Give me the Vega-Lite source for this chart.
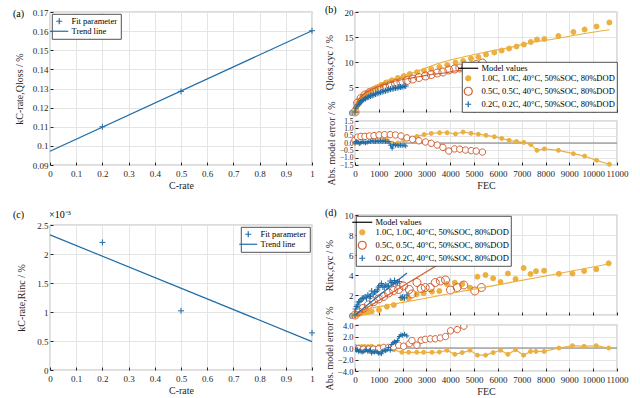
{
"$schema":"https://vega.github.io/schema/vega-lite/v6.json",
"background":"white",
"padding":{"left":12,"top":4,"right":0,"bottom":0},
"config":{
 "font":"Liberation Serif",
 "view":{"stroke":"#262626","strokeWidth":0.8},
 "axis":{"labelFont":"Liberation Serif","titleFont":"Liberation Serif","labelFontSize":9,"titleFontSize":10,"titleFontWeight":"normal","labelColor":"#262626","titleColor":"#262626","tickColor":"#262626","gridColor":"#e4e4e4","grid":true,"domain":false,"tickSize":-3,"labelPadding":3,"titlePadding":4,"labelOverlap":false,"labelFlush":false},
 "axisX":{"labelPadding":7,"titlePadding":2},
 "axisY":{"labelPadding":5},
 "legend":{"labelFont":"Liberation Serif","labelFontSize":8.5,"labelColor":"#000000","fillColor":"white","strokeColor":"#262626","strokeWidth":0.8,"padding":2,"rowPadding":0,"labelLimit":0,"symbolStrokeWidth":1.2},
 "title":{"font":"Liberation Serif","fontSize":10,"fontWeight":"normal","anchor":"start","frame":"group","color":"#000000"}
},
"datasets":{
 "a_pts":[{"c":0.2,"k":0.1100,"type":"Fit parameter"},{"c":0.5,"k":0.1285,"type":"Fit parameter"},{"c":1.0,"k":0.1602,"type":"Fit parameter"}],
 "a_line":[{"c":0,"k":0.0972},{"c":1,"k":0.1602}],
 "c_pts":[{"c":0.2,"k":0.00220,"type":"Fit parameter"},{"c":0.5,"k":0.00102,"type":"Fit parameter"},{"c":1.0,"k":0.00064,"type":"Fit parameter"}],
 "c_line":[{"c":0,"k":0.00233},{"c":1,"k":0.00049}],
 "b_meas":[
  {"s":"1.0C","f":0,"v":0},{"s":"1.0C","f":50,"v":1.0},{"s":"1.0C","f":120,"v":1.7},{"s":"1.0C","f":200,"v":2.3},{"s":"1.0C","f":300,"v":2.9},{"s":"1.0C","f":420,"v":3.4},{"s":"1.0C","f":550,"v":3.9},{"s":"1.0C","f":700,"v":4.4},{"s":"1.0C","f":900,"v":4.9},{"s":"1.0C","f":1100,"v":5.4},{"s":"1.0C","f":1300,"v":5.9},{"s":"1.0C","f":1550,"v":6.35},{"s":"1.0C","f":1800,"v":6.8},{"s":"1.0C","f":2050,"v":7.2},{"s":"1.0C","f":2300,"v":7.6},{"s":"1.0C","f":2600,"v":7.95},{"s":"1.0C","f":2900,"v":8.25},{"s":"1.0C","f":3200,"v":8.6},{"s":"1.0C","f":3550,"v":9.0},{"s":"1.0C","f":3870,"v":9.4},{"s":"1.0C","f":4220,"v":9.9},{"s":"1.0C","f":4540,"v":10.2},{"s":"1.0C","f":4870,"v":10.7},{"s":"1.0C","f":5180,"v":11.0},{"s":"1.0C","f":5500,"v":11.5},{"s":"1.0C","f":5850,"v":11.9},{"s":"1.0C","f":6160,"v":12.3},{"s":"1.0C","f":6470,"v":12.7},{"s":"1.0C","f":6780,"v":13.1},{"s":"1.0C","f":7090,"v":13.5},{"s":"1.0C","f":7380,"v":14.0},{"s":"1.0C","f":7640,"v":14.5},{"s":"1.0C","f":7950,"v":14.6},{"s":"1.0C","f":8540,"v":15.2},{"s":"1.0C","f":9170,"v":16.0},{"s":"1.0C","f":9640,"v":16.5},{"s":"1.0C","f":10140,"v":17.1},{"s":"1.0C","f":10680,"v":17.9},
  {"s":"0.5C","f":0,"v":0},{"s":"0.5C","f":110,"v":1.8},{"s":"0.5C","f":250,"v":2.7},{"s":"0.5C","f":420,"v":3.4},{"s":"0.5C","f":610,"v":3.9},{"s":"0.5C","f":800,"v":4.3},{"s":"0.5C","f":1010,"v":4.7},{"s":"0.5C","f":1240,"v":5.0},{"s":"0.5C","f":1480,"v":5.4},{"s":"0.5C","f":1700,"v":5.7},{"s":"0.5C","f":1930,"v":6.0},{"s":"0.5C","f":2180,"v":6.3},{"s":"0.5C","f":2420,"v":6.6},{"s":"0.5C","f":2680,"v":6.9},{"s":"0.5C","f":2960,"v":7.2},{"s":"0.5C","f":3200,"v":7.5},{"s":"0.5C","f":3450,"v":7.8},{"s":"0.5C","f":3690,"v":8.0},{"s":"0.5C","f":3940,"v":8.4},{"s":"0.5C","f":4180,"v":8.6},{"s":"0.5C","f":4400,"v":8.8},{"s":"0.5C","f":4640,"v":9.0},{"s":"0.5C","f":4880,"v":9.2},{"s":"0.5C","f":5090,"v":9.5},{"s":"0.5C","f":5350,"v":9.8},
  {"s":"0.2C","f":0,"v":0},{"s":"0.2C","f":30,"v":0.8},{"s":"0.2C","f":70,"v":1.2},{"s":"0.2C","f":120,"v":1.5},{"s":"0.2C","f":180,"v":1.8},{"s":"0.2C","f":240,"v":2.1},{"s":"0.2C","f":300,"v":2.3},{"s":"0.2C","f":370,"v":2.5},{"s":"0.2C","f":440,"v":2.7},{"s":"0.2C","f":510,"v":2.9},{"s":"0.2C","f":580,"v":3.0},{"s":"0.2C","f":650,"v":3.2},{"s":"0.2C","f":720,"v":3.3},{"s":"0.2C","f":790,"v":3.45},{"s":"0.2C","f":860,"v":3.6},{"s":"0.2C","f":930,"v":3.7},{"s":"0.2C","f":1000,"v":3.85},{"s":"0.2C","f":1070,"v":3.95},{"s":"0.2C","f":1140,"v":4.05},{"s":"0.2C","f":1210,"v":4.15},{"s":"0.2C","f":1280,"v":4.25},{"s":"0.2C","f":1350,"v":4.35},{"s":"0.2C","f":1420,"v":4.45},{"s":"0.2C","f":1490,"v":4.6},{"s":"0.2C","f":1560,"v":4.65},{"s":"0.2C","f":1630,"v":4.7},{"s":"0.2C","f":1700,"v":4.8},{"s":"0.2C","f":1770,"v":4.85},{"s":"0.2C","f":1840,"v":4.95},{"s":"0.2C","f":1910,"v":5.0},{"s":"0.2C","f":1980,"v":5.05},{"s":"0.2C","f":2060,"v":5.15},{"s":"0.2C","f":2130,"v":5.2}
 ],
 "b_model":[
  {"s":"1.0C","f":0,"v":0},{"s":"1.0C","f":30,"v":1.0},{"s":"1.0C","f":100,"v":2.0},{"s":"1.0C","f":200,"v":2.7},{"s":"1.0C","f":350,"v":3.4},{"s":"1.0C","f":550,"v":4.3},{"s":"1.0C","f":800,"v":5.0},{"s":"1.0C","f":1000,"v":5.5},{"s":"1.0C","f":1300,"v":6.2},{"s":"1.0C","f":1700,"v":6.8},{"s":"1.0C","f":2100,"v":7.4},{"s":"1.0C","f":2500,"v":7.95},{"s":"1.0C","f":3000,"v":8.85},{"s":"1.0C","f":3700,"v":10.0},{"s":"1.0C","f":4500,"v":10.95},{"s":"1.0C","f":5500,"v":12.0},{"s":"1.0C","f":6500,"v":12.9},{"s":"1.0C","f":7400,"v":13.9},{"s":"1.0C","f":8500,"v":14.7},{"s":"1.0C","f":9500,"v":15.6},{"s":"1.0C","f":10680,"v":16.45},
  {"s":"0.5C","f":0,"v":0},{"s":"0.5C","f":110,"v":2.1},{"s":"0.5C","f":250,"v":3.0},{"s":"0.5C","f":420,"v":3.75},{"s":"0.5C","f":800,"v":4.75},{"s":"0.5C","f":1240,"v":5.5},{"s":"0.5C","f":1700,"v":6.2},{"s":"0.5C","f":2180,"v":6.65},{"s":"0.5C","f":2680,"v":7.05},{"s":"0.5C","f":3200,"v":7.5},{"s":"0.5C","f":3690,"v":7.75},{"s":"0.5C","f":4180,"v":8.2},{"s":"0.5C","f":4640,"v":8.5},{"s":"0.5C","f":5090,"v":8.95},{"s":"0.5C","f":5350,"v":9.2},
  {"s":"0.2C","f":0,"v":0},{"s":"0.2C","f":30,"v":0.9},{"s":"0.2C","f":70,"v":1.3},{"s":"0.2C","f":150,"v":1.7},{"s":"0.2C","f":300,"v":2.4},{"s":"0.2C","f":500,"v":2.95},{"s":"0.2C","f":800,"v":3.55},{"s":"0.2C","f":1100,"v":4.05},{"s":"0.2C","f":1400,"v":4.55},{"s":"0.2C","f":1700,"v":4.65},{"s":"0.2C","f":2130,"v":5.0}
 ],
 "b_err":[
  {"s":"1.0C","f":0,"v":0},{"s":"1.0C","f":50,"v":0.2},{"s":"1.0C","f":120,"v":0.3},{"s":"1.0C","f":200,"v":0.4},{"s":"1.0C","f":300,"v":0.45},{"s":"1.0C","f":420,"v":0.45},{"s":"1.0C","f":550,"v":0.45},{"s":"1.0C","f":700,"v":0.45},{"s":"1.0C","f":900,"v":0.45},{"s":"1.0C","f":1100,"v":0.4},{"s":"1.0C","f":1300,"v":0.3},{"s":"1.0C","f":1550,"v":0.0},{"s":"1.0C","f":1800,"v":0.0},{"s":"1.0C","f":2050,"v":0.2},{"s":"1.0C","f":2300,"v":0.3},{"s":"1.0C","f":2600,"v":0.45},{"s":"1.0C","f":2900,"v":0.58},{"s":"1.0C","f":3200,"v":0.65},{"s":"1.0C","f":3550,"v":0.7},{"s":"1.0C","f":3870,"v":0.7},{"s":"1.0C","f":4220,"v":0.62},{"s":"1.0C","f":4540,"v":0.75},{"s":"1.0C","f":4870,"v":0.66},{"s":"1.0C","f":5180,"v":0.6},{"s":"1.0C","f":5500,"v":0.52},{"s":"1.0C","f":5850,"v":0.43},{"s":"1.0C","f":6160,"v":0.31},{"s":"1.0C","f":6470,"v":0.18},{"s":"1.0C","f":6780,"v":0.1},{"s":"1.0C","f":7090,"v":0.04},{"s":"1.0C","f":7380,"v":-0.1},{"s":"1.0C","f":7640,"v":-0.5},{"s":"1.0C","f":7950,"v":-0.4},{"s":"1.0C","f":8540,"v":-0.5},{"s":"1.0C","f":9170,"v":-0.73},{"s":"1.0C","f":9640,"v":-0.89},{"s":"1.0C","f":10140,"v":-1.18},{"s":"1.0C","f":10680,"v":-1.45},
  {"s":"0.5C","f":0,"v":0.2},{"s":"0.5C","f":110,"v":0.4},{"s":"0.5C","f":250,"v":0.45},{"s":"0.5C","f":420,"v":0.45},{"s":"0.5C","f":610,"v":0.48},{"s":"0.5C","f":800,"v":0.5},{"s":"0.5C","f":1010,"v":0.55},{"s":"0.5C","f":1240,"v":0.57},{"s":"0.5C","f":1480,"v":0.57},{"s":"0.5C","f":1700,"v":0.55},{"s":"0.5C","f":1930,"v":0.48},{"s":"0.5C","f":2180,"v":0.35},{"s":"0.5C","f":2420,"v":0.25},{"s":"0.5C","f":2680,"v":0.15},{"s":"0.5C","f":2960,"v":0.07},{"s":"0.5C","f":3200,"v":-0.02},{"s":"0.5C","f":3450,"v":-0.14},{"s":"0.5C","f":3690,"v":-0.3},{"s":"0.5C","f":3940,"v":-0.55},{"s":"0.5C","f":4180,"v":-0.4},{"s":"0.5C","f":4400,"v":-0.42},{"s":"0.5C","f":4640,"v":-0.48},{"s":"0.5C","f":4880,"v":-0.52},{"s":"0.5C","f":5090,"v":-0.55},{"s":"0.5C","f":5350,"v":-0.62},
  {"s":"0.2C","f":0,"v":0},{"s":"0.2C","f":30,"v":0.1},{"s":"0.2C","f":70,"v":0.1},{"s":"0.2C","f":120,"v":0.05},{"s":"0.2C","f":180,"v":-0.05},{"s":"0.2C","f":240,"v":0.0},{"s":"0.2C","f":300,"v":0.1},{"s":"0.2C","f":370,"v":0.05},{"s":"0.2C","f":440,"v":0.0},{"s":"0.2C","f":510,"v":0.05},{"s":"0.2C","f":580,"v":0.1},{"s":"0.2C","f":650,"v":0.1},{"s":"0.2C","f":720,"v":0.15},{"s":"0.2C","f":790,"v":0.1},{"s":"0.2C","f":860,"v":0.1},{"s":"0.2C","f":930,"v":0.15},{"s":"0.2C","f":1000,"v":0.1},{"s":"0.2C","f":1070,"v":0.15},{"s":"0.2C","f":1140,"v":0.1},{"s":"0.2C","f":1210,"v":0.15},{"s":"0.2C","f":1280,"v":0.1},{"s":"0.2C","f":1350,"v":0.1},{"s":"0.2C","f":1420,"v":0.1},{"s":"0.2C","f":1490,"v":-0.15},{"s":"0.2C","f":1560,"v":-0.35},{"s":"0.2C","f":1630,"v":-0.1},{"s":"0.2C","f":1700,"v":-0.15},{"s":"0.2C","f":1770,"v":-0.15},{"s":"0.2C","f":1840,"v":-0.18},{"s":"0.2C","f":1910,"v":-0.15},{"s":"0.2C","f":1980,"v":-0.18},{"s":"0.2C","f":2060,"v":-0.15},{"s":"0.2C","f":2130,"v":-0.2}
 ],
 "d_meas":[
  {"s":"1.0C","f":0,"v":0},{"s":"1.0C","f":50,"v":0.05},{"s":"1.0C","f":120,"v":0.1},{"s":"1.0C","f":200,"v":0.15},{"s":"1.0C","f":300,"v":0.2},{"s":"1.0C","f":420,"v":0.25},{"s":"1.0C","f":550,"v":0.3},{"s":"1.0C","f":700,"v":0.35},{"s":"1.0C","f":1010,"v":0.5},{"s":"1.0C","f":1340,"v":0.83},{"s":"1.0C","f":1630,"v":1.0},{"s":"1.0C","f":1970,"v":1.67},{"s":"1.0C","f":2250,"v":1.67},{"s":"1.0C","f":2590,"v":2.07},{"s":"1.0C","f":2880,"v":2.17},{"s":"1.0C","f":3230,"v":2.33},{"s":"1.0C","f":3540,"v":2.4},{"s":"1.0C","f":3860,"v":3.1},{"s":"1.0C","f":4190,"v":3.23},{"s":"1.0C","f":4500,"v":3.1},{"s":"1.0C","f":4830,"v":2.73},{"s":"1.0C","f":5140,"v":3.83},{"s":"1.0C","f":5480,"v":4.0},{"s":"1.0C","f":5800,"v":3.67},{"s":"1.0C","f":6110,"v":3.3},{"s":"1.0C","f":6420,"v":4.15},{"s":"1.0C","f":6740,"v":3.6},{"s":"1.0C","f":7080,"v":4.7},{"s":"1.0C","f":7370,"v":4.1},{"s":"1.0C","f":7600,"v":4.38},{"s":"1.0C","f":7940,"v":4.43},{"s":"1.0C","f":8560,"v":4.12},{"s":"1.0C","f":9130,"v":4.14},{"s":"1.0C","f":9620,"v":4.4},{"s":"1.0C","f":10130,"v":4.57},{"s":"1.0C","f":10650,"v":5.17},
  {"s":"0.5C","f":0,"v":0},{"s":"0.5C","f":140,"v":0.33},{"s":"0.5C","f":350,"v":0.67},{"s":"0.5C","f":560,"v":1.0},{"s":"0.5C","f":780,"v":1.33},{"s":"0.5C","f":990,"v":1.6},{"s":"0.5C","f":1200,"v":1.85},{"s":"0.5C","f":1410,"v":2.2},{"s":"0.5C","f":1620,"v":2.45},{"s":"0.5C","f":1830,"v":2.55},{"s":"0.5C","f":2040,"v":2.9},{"s":"0.5C","f":2280,"v":2.55},{"s":"0.5C","f":2390,"v":2.1},{"s":"0.5C","f":2600,"v":3.25},{"s":"0.5C","f":2780,"v":2.65},{"s":"0.5C","f":2950,"v":2.75},{"s":"0.5C","f":3160,"v":2.75},{"s":"0.5C","f":3370,"v":3.25},{"s":"0.5C","f":3580,"v":3.4},{"s":"0.5C","f":3800,"v":3.5},{"s":"0.5C","f":4010,"v":2.5},{"s":"0.5C","f":4290,"v":2.75},{"s":"0.5C","f":4570,"v":3.0},{"s":"0.5C","f":5030,"v":2.4},{"s":"0.5C","f":5310,"v":2.75},
  {"s":"0.2C","f":0,"v":0},{"s":"0.2C","f":30,"v":0.6},{"s":"0.2C","f":70,"v":0.85},{"s":"0.2C","f":110,"v":1.0},{"s":"0.2C","f":150,"v":1.3},{"s":"0.2C","f":200,"v":1.35},{"s":"0.2C","f":250,"v":1.5},{"s":"0.2C","f":300,"v":1.65},{"s":"0.2C","f":350,"v":1.7},{"s":"0.2C","f":420,"v":1.8},{"s":"0.2C","f":480,"v":1.7},{"s":"0.2C","f":540,"v":2.0},{"s":"0.2C","f":600,"v":1.85},{"s":"0.2C","f":650,"v":1.9},{"s":"0.2C","f":700,"v":2.4},{"s":"0.2C","f":760,"v":2.1},{"s":"0.2C","f":820,"v":2.3},{"s":"0.2C","f":880,"v":2.35},{"s":"0.2C","f":940,"v":2.5},{"s":"0.2C","f":990,"v":2.8},{"s":"0.2C","f":1050,"v":2.95},{"s":"0.2C","f":1110,"v":3.15},{"s":"0.2C","f":1170,"v":2.8},{"s":"0.2C","f":1230,"v":2.8},{"s":"0.2C","f":1290,"v":3.0},{"s":"0.2C","f":1350,"v":2.9},{"s":"0.2C","f":1410,"v":2.9},{"s":"0.2C","f":1480,"v":3.4},{"s":"0.2C","f":1540,"v":3.25},{"s":"0.2C","f":1600,"v":3.1},{"s":"0.2C","f":1660,"v":3.45},{"s":"0.2C","f":1720,"v":3.2},{"s":"0.2C","f":1780,"v":3.3},{"s":"0.2C","f":1860,"v":3.35},{"s":"0.2C","f":1930,"v":1.75},{"s":"0.2C","f":2000,"v":1.8},{"s":"0.2C","f":2080,"v":1.7},{"s":"0.2C","f":2180,"v":2.0}
 ],
 "d_model":[
  {"s":"1.0C","f":0,"v":0},{"s":"1.0C","f":100,"v":0.25},{"s":"1.0C","f":300,"v":0.45},{"s":"1.0C","f":700,"v":0.7},{"s":"1.0C","f":1500,"v":1.05},{"s":"1.0C","f":2800,"v":1.6},{"s":"1.0C","f":4000,"v":2.15},{"s":"1.0C","f":5330,"v":2.73},{"s":"1.0C","f":8000,"v":3.9},{"s":"1.0C","f":10650,"v":5.1},
  {"s":"0.5C","f":0,"v":0},{"s":"0.5C","f":5310,"v":7.65},
  {"s":"0.2C","f":0,"v":0},{"s":"0.2C","f":2180,"v":4.2}
 ],
 "d_err":[
  {"s":"1.0C","f":0,"v":0},{"s":"1.0C","f":50,"v":0.1},{"s":"1.0C","f":120,"v":0.15},{"s":"1.0C","f":200,"v":0.2},{"s":"1.0C","f":300,"v":0.25},{"s":"1.0C","f":420,"v":0.25},{"s":"1.0C","f":550,"v":0.25},{"s":"1.0C","f":700,"v":0.3},{"s":"1.0C","f":1010,"v":0.3},{"s":"1.0C","f":1340,"v":0.1},{"s":"1.0C","f":1630,"v":-0.3},{"s":"1.0C","f":1970,"v":-0.75},{"s":"1.0C","f":2250,"v":-0.75},{"s":"1.0C","f":2590,"v":-0.75},{"s":"1.0C","f":2880,"v":-0.75},{"s":"1.0C","f":3230,"v":-0.75},{"s":"1.0C","f":3540,"v":-0.7},{"s":"1.0C","f":3860,"v":-0.4},{"s":"1.0C","f":4190,"v":-1.1},{"s":"1.0C","f":4500,"v":-0.8},{"s":"1.0C","f":4830,"v":-0.4},{"s":"1.0C","f":5140,"v":-1.25},{"s":"1.0C","f":5480,"v":-1.25},{"s":"1.0C","f":5800,"v":-0.8},{"s":"1.0C","f":6110,"v":-0.4},{"s":"1.0C","f":6420,"v":-1.1},{"s":"1.0C","f":6740,"v":-0.3},{"s":"1.0C","f":7080,"v":-1.25},{"s":"1.0C","f":7370,"v":-0.6},{"s":"1.0C","f":7600,"v":-0.6},{"s":"1.0C","f":7940,"v":-0.6},{"s":"1.0C","f":8560,"v":0.0},{"s":"1.0C","f":9130,"v":0.4},{"s":"1.0C","f":9620,"v":0.3},{"s":"1.0C","f":10130,"v":0.4},{"s":"1.0C","f":10650,"v":0.0},
  {"s":"0.5C","f":0,"v":0},{"s":"0.5C","f":140,"v":-0.1},{"s":"0.5C","f":350,"v":-0.2},{"s":"0.5C","f":560,"v":-0.2},{"s":"0.5C","f":780,"v":-0.2},{"s":"0.5C","f":990,"v":-0.15},{"s":"0.5C","f":1200,"v":0.1},{"s":"0.5C","f":1410,"v":0.1},{"s":"0.5C","f":1620,"v":0.2},{"s":"0.5C","f":1830,"v":0.5},{"s":"0.5C","f":2040,"v":0.3},{"s":"0.5C","f":2280,"v":0.75},{"s":"0.5C","f":2390,"v":1.3},{"s":"0.5C","f":2600,"v":0.5},{"s":"0.5C","f":2780,"v":1.35},{"s":"0.5C","f":2950,"v":1.5},{"s":"0.5C","f":3160,"v":1.6},{"s":"0.5C","f":3370,"v":1.6},{"s":"0.5C","f":3580,"v":1.75},{"s":"0.5C","f":3800,"v":2.0},{"s":"0.5C","f":4010,"v":3.0},{"s":"0.5C","f":4290,"v":3.2},{"s":"0.5C","f":4570,"v":3.8},{"s":"0.5C","f":5030,"v":4.8},{"s":"0.5C","f":5310,"v":4.9},
  {"s":"0.2C","f":0,"v":0},{"s":"0.2C","f":30,"v":-0.3},{"s":"0.2C","f":70,"v":-0.4},{"s":"0.2C","f":110,"v":-0.3},{"s":"0.2C","f":150,"v":-0.6},{"s":"0.2C","f":200,"v":-0.5},{"s":"0.2C","f":250,"v":-0.6},{"s":"0.2C","f":300,"v":-0.7},{"s":"0.2C","f":350,"v":-0.6},{"s":"0.2C","f":420,"v":-0.5},{"s":"0.2C","f":480,"v":-0.3},{"s":"0.2C","f":540,"v":-0.6},{"s":"0.2C","f":600,"v":-0.4},{"s":"0.2C","f":650,"v":-0.4},{"s":"0.2C","f":700,"v":-0.9},{"s":"0.2C","f":760,"v":-0.6},{"s":"0.2C","f":820,"v":-0.7},{"s":"0.2C","f":880,"v":-0.6},{"s":"0.2C","f":940,"v":-0.7},{"s":"0.2C","f":990,"v":-0.9},{"s":"0.2C","f":1050,"v":-0.9},{"s":"0.2C","f":1110,"v":-1.0},{"s":"0.2C","f":1170,"v":-0.5},{"s":"0.2C","f":1230,"v":-0.4},{"s":"0.2C","f":1290,"v":-0.5},{"s":"0.2C","f":1350,"v":-0.3},{"s":"0.2C","f":1410,"v":0.1},{"s":"0.2C","f":1480,"v":-0.4},{"s":"0.2C","f":1540,"v":0.6},{"s":"0.2C","f":1600,"v":0.9},{"s":"0.2C","f":1660,"v":1.1},{"s":"0.2C","f":1720,"v":1.0},{"s":"0.2C","f":1780,"v":1.3},{"s":"0.2C","f":1860,"v":2.0},{"s":"0.2C","f":1930,"v":2.3},{"s":"0.2C","f":2000,"v":2.2},{"s":"0.2C","f":2080,"v":2.4},{"s":"0.2C","f":2180,"v":2.1}
 ]
},
"spacing":5,
"resolve":{"scale":{"shape":"independent","stroke":"independent","fill":"independent","color":"independent"},"legend":{"shape":"independent","stroke":"independent","fill":"independent"}},
"hconcat":[
 {"vconcat":[
  {"width":262,"height":153,
   "title":{"text":"(a)","dx":-37,"offset":-16,"baseline":"middle"},
   "layer":[
    {"data":{"name":"a_line"},"mark":{"type":"line","color":"#1F6DA8","strokeWidth":1.2},
     "encoding":{"x":{"field":"c","type":"quantitative","scale":{"domain":[0,1],"nice":false},"axis":{"values":[0,0.1,0.2,0.3,0.4,0.5,0.6,0.7,0.8,0.9,1],"tickCount":40,"format":"~g","title":"C-rate"}},
                 "y":{"field":"k","type":"quantitative","scale":{"domain":[0.09,0.17],"nice":false,"zero":false},"axis":{"values":[0.09,0.1,0.11,0.12,0.13,0.14,0.15,0.16,0.17],"tickCount":40,"format":"~g","title":"kC-rate,Qloss / %","titlePadding":8}}}},
    {"data":{"name":"a_pts"},"mark":{"type":"point","opacity":1,"strokeWidth":1,"size":36},
     "encoding":{"x":{"field":"c","type":"quantitative"},"y":{"field":"k","type":"quantitative"},
      "shape":{"field":"type","type":"nominal","scale":{"domain":["Fit parameter","Trend line"],"range":["M-1,0L1,0M0,-1L0,1","M-3,0L3,0"]},"legend":{"title":null,"orient":"top-left","offset":2,"symbolSize":36,"labelOffset":8,"padding":3}},
      "stroke":{"field":"type","type":"nominal","scale":{"domain":["Fit parameter","Trend line"],"range":["#1F6DA8","#1F6DA8"]},"legend":{"title":null,"orient":"top-left","offset":2,"symbolSize":36,"labelOffset":8,"padding":3}}}}
   ]},
  {"width":262,"height":145,
   "title":{"text":"(c)\u00a0\u00a0\u00a0\u00a0\u00a0\u00a0\u00a0\u00a0\u00a0\u00a0×10⁻³","dx":-37,"offset":-4,"baseline":"middle"},
   "layer":[
    {"data":{"name":"c_line"},"mark":{"type":"line","color":"#1F6DA8","strokeWidth":1.2},
     "encoding":{"x":{"field":"c","type":"quantitative","scale":{"domain":[0,1],"nice":false},"axis":{"values":[0,0.1,0.2,0.3,0.4,0.5,0.6,0.7,0.8,0.9,1],"tickCount":40,"format":"~g","title":"C-rate"}},
                 "y":{"field":"k","type":"quantitative","scale":{"domain":[0,0.0025],"nice":false},"axis":{"values":[0,0.0005,0.001,0.0015,0.002,0.0025],"tickCount":40,"labelExpr":"format(datum.value*1000,'~g')","title":"kC-rate,Rinc / %","titlePadding":10}}}},
    {"data":{"name":"c_pts"},"mark":{"type":"point","opacity":1,"strokeWidth":1,"size":36},
     "encoding":{"x":{"field":"c","type":"quantitative"},"y":{"field":"k","type":"quantitative"},
      "shape":{"field":"type","type":"nominal","scale":{"domain":["Fit parameter","Trend line"],"range":["M-1,0L1,0M0,-1L0,1","M-3,0L3,0"]},"legend":{"title":null,"orient":"top-right","offset":2,"symbolSize":36,"labelOffset":8,"padding":3}},
      "stroke":{"field":"type","type":"nominal","scale":{"domain":["Fit parameter","Trend line"],"range":["#1F6DA8","#1F6DA8"]},"legend":{"title":null,"orient":"top-right","offset":2,"symbolSize":36,"labelOffset":8,"padding":3}}}}
   ]}
 ],"spacing":60,"bounds":"flush",
 "resolve":{"scale":{"shape":"independent","stroke":"independent","fill":"independent","color":"independent"},"legend":{"shape":"independent","stroke":"independent","fill":"independent"}}},
 {"vconcat":[
  {"vconcat":[
   {"width":262,"height":100,
    "title":{"text":"(b)","dx":-30,"offset":-12,"baseline":"middle"},
    "layer":[
     {"data":{"name":"b_meas"},"mark":{"type":"point","opacity":1,"strokeWidth":1,"size":25},
      "encoding":{"x":{"field":"f","type":"quantitative","scale":{"domain":[0,11000],"nice":false},"axis":{"values":[0,1000,2000,3000,4000,5000,6000,7000,8000,9000,10000,11000],"tickCount":40,"labels":false,"title":null}},
       "y":{"field":"v","type":"quantitative","scale":{"domain":[0,20],"nice":false},"axis":{"values":[0,5,10,15,20],"tickCount":40,"format":"~g","title":"Qloss,cyc / %","titlePadding":10}},
       "shape":{"field":"s","type":"nominal","scale":{"domain":["Model values","1.0C","0.5C","0.2C"],"range":["M-4,0L4,0","circle","M-1.6,0A1.6,1.6 0 1,0 1.6,0A1.6,1.6 0 1,0 -1.6,0","M-1.2,0L1.2,0M0,-1.2L0,1.2"]},"legend":{"title":null,"orient":"bottom-right","offset":0,"symbolSize":25,"labelOffset":9,"labelExpr":"datum.label == 'Model values' ? datum.label : datum.label + ', ' + datum.label + ', 40°C, 50%SOC, 80%DOD'"}},
       "stroke":{"field":"s","type":"nominal","scale":{"domain":["Model values","1.0C","0.5C","0.2C"],"range":["#000000","#EBB03F","#D05F33","#1F6DA8"]},"legend":{"title":null,"orient":"bottom-right","offset":0,"symbolSize":25,"labelOffset":9,"labelExpr":"datum.label == 'Model values' ? datum.label : datum.label + ', ' + datum.label + ', 40°C, 50%SOC, 80%DOD'"}},
       "fill":{"field":"s","type":"nominal","scale":{"domain":["Model values","1.0C","0.5C","0.2C"],"range":["transparent","#EBB03F","transparent","transparent"]},"legend":{"title":null,"orient":"bottom-right","offset":0,"symbolSize":25,"labelOffset":9,"labelExpr":"datum.label == 'Model values' ? datum.label : datum.label + ', ' + datum.label + ', 40°C, 50%SOC, 80%DOD'"}}}},
     {"data":{"name":"b_model"},"transform":[{"filter":"datum.s == '1.0C'"}],"mark":{"type":"line","color":"#EBB03F","strokeWidth":1.2,"interpolate":"monotone"},"encoding":{"x":{"field":"f","type":"quantitative"},"y":{"field":"v","type":"quantitative"}}},
     {"data":{"name":"b_model"},"transform":[{"filter":"datum.s == '0.5C'"}],"mark":{"type":"line","color":"#D05F33","strokeWidth":1.2,"interpolate":"monotone"},"encoding":{"x":{"field":"f","type":"quantitative"},"y":{"field":"v","type":"quantitative"}}},
     {"data":{"name":"b_model"},"transform":[{"filter":"datum.s == '0.2C'"}],"mark":{"type":"line","color":"#1F6DA8","strokeWidth":1.2,"interpolate":"monotone"},"encoding":{"x":{"field":"f","type":"quantitative"},"y":{"field":"v","type":"quantitative"}}}
    ]},
   {"width":262,"height":44,
    "layer":[
     {"data":{"values":[{"z":0}]},"mark":{"type":"rule","color":"#7a7a7a","strokeWidth":1},
      "encoding":{"y":{"field":"z","type":"quantitative","scale":{"domain":[-1.5,1.5],"nice":false},"axis":{"values":[-1.5,-1,-0.5,0,0.5,1,1.5],"tickCount":40,"format":".1f","labelFontSize":7.5,"title":"Abs. model error / %","titlePadding":3}}}},
     {"data":{"name":"b_err"},"transform":[{"filter":"datum.s == '1.0C'"}],"mark":{"type":"line","color":"#EBB03F","strokeWidth":1.2},
      "encoding":{"x":{"field":"f","type":"quantitative","scale":{"domain":[0,11000],"nice":false},"axis":{"values":[0,1000,2000,3000,4000,5000,6000,7000,8000,9000,10000,11000],"tickCount":40,"format":"d","title":"FEC"}},"y":{"field":"v","type":"quantitative"}}},
     {"data":{"name":"b_err"},"transform":[{"filter":"datum.s == '0.5C'"}],"mark":{"type":"line","color":"#D05F33","strokeWidth":1.2},"encoding":{"x":{"field":"f","type":"quantitative"},"y":{"field":"v","type":"quantitative"}}},
     {"data":{"name":"b_err"},"transform":[{"filter":"datum.s == '0.2C'"}],"mark":{"type":"line","color":"#1F6DA8","strokeWidth":1.2},"encoding":{"x":{"field":"f","type":"quantitative"},"y":{"field":"v","type":"quantitative"}}},
     {"data":{"name":"b_err"},"mark":{"type":"point","opacity":1,"strokeWidth":1,"size":16},
      "encoding":{"x":{"field":"f","type":"quantitative"},"y":{"field":"v","type":"quantitative"},
       "shape":{"field":"s","type":"nominal","scale":{"domain":["1.0C","0.5C","0.2C"],"range":["circle","M-1.6,0A1.6,1.6 0 1,0 1.6,0A1.6,1.6 0 1,0 -1.6,0","M-1.2,0L1.2,0M0,-1.2L0,1.2"]},"legend":null},
       "stroke":{"field":"s","type":"nominal","scale":{"domain":["1.0C","0.5C","0.2C"],"range":["#EBB03F","#D05F33","#1F6DA8"]},"legend":null},
       "fill":{"field":"s","type":"nominal","scale":{"domain":["1.0C","0.5C","0.2C"],"range":["#EBB03F","white","transparent"]},"legend":null}}}
    ]}
  ],"spacing":9,"bounds":"flush",
  "resolve":{"scale":{"shape":"independent","stroke":"independent","fill":"independent","color":"independent"},"legend":{"shape":"independent","stroke":"independent","fill":"independent"}}},
  {"vconcat":[
   {"width":262,"height":100,
    "title":{"text":"(d)","dx":-30,"offset":-12,"baseline":"middle"},
    "layer":[
     {"data":{"name":"d_meas"},"mark":{"type":"point","opacity":1,"strokeWidth":1,"size":25},
      "encoding":{"x":{"field":"f","type":"quantitative","scale":{"domain":[0,11000],"nice":false},"axis":{"values":[0,1000,2000,3000,4000,5000,6000,7000,8000,9000,10000,11000],"tickCount":40,"labels":false,"title":null}},
       "y":{"field":"v","type":"quantitative","scale":{"domain":[0,10],"nice":false},"axis":{"values":[0,2,4,6,8,10],"tickCount":40,"format":"~g","title":"Rinc,cyc / %","titlePadding":10}},
       "shape":{"field":"s","type":"nominal","scale":{"domain":["Model values","1.0C","0.5C","0.2C"],"range":["M-4,0L4,0","circle","M-1.6,0A1.6,1.6 0 1,0 1.6,0A1.6,1.6 0 1,0 -1.6,0","M-1.2,0L1.2,0M0,-1.2L0,1.2"]},"legend":{"title":null,"orient":"top-left","offset":1,"symbolSize":25,"labelOffset":9,"labelExpr":"datum.label == 'Model values' ? datum.label : datum.label + ', ' + datum.label + ', 40°C, 50%SOC, 80%DOD'"}},
       "stroke":{"field":"s","type":"nominal","scale":{"domain":["Model values","1.0C","0.5C","0.2C"],"range":["#000000","#EBB03F","#D05F33","#1F6DA8"]},"legend":{"title":null,"orient":"top-left","offset":1,"symbolSize":25,"labelOffset":9,"labelExpr":"datum.label == 'Model values' ? datum.label : datum.label + ', ' + datum.label + ', 40°C, 50%SOC, 80%DOD'"}},
       "fill":{"field":"s","type":"nominal","scale":{"domain":["Model values","1.0C","0.5C","0.2C"],"range":["transparent","#EBB03F","transparent","transparent"]},"legend":{"title":null,"orient":"top-left","offset":1,"symbolSize":25,"labelOffset":9,"labelExpr":"datum.label == 'Model values' ? datum.label : datum.label + ', ' + datum.label + ', 40°C, 50%SOC, 80%DOD'"}}}},
     {"data":{"name":"d_model"},"transform":[{"filter":"datum.s == '1.0C'"}],"mark":{"type":"line","color":"#EBB03F","strokeWidth":1.2,"interpolate":"monotone","clip":true},"encoding":{"x":{"field":"f","type":"quantitative"},"y":{"field":"v","type":"quantitative"}}},
     {"data":{"name":"d_model"},"transform":[{"filter":"datum.s == '0.5C'"}],"mark":{"type":"line","color":"#D05F33","strokeWidth":1.2,"clip":true},"encoding":{"x":{"field":"f","type":"quantitative"},"y":{"field":"v","type":"quantitative"}}},
     {"data":{"name":"d_model"},"transform":[{"filter":"datum.s == '0.2C'"}],"mark":{"type":"line","color":"#1F6DA8","strokeWidth":1.2,"clip":true},"encoding":{"x":{"field":"f","type":"quantitative"},"y":{"field":"v","type":"quantitative"}}}
    ]},
   {"width":262,"height":46,
    "layer":[
     {"data":{"values":[{"z":0}]},"mark":{"type":"rule","color":"#7a7a7a","strokeWidth":1},
      "encoding":{"y":{"field":"z","type":"quantitative","scale":{"domain":[-4,4],"nice":false},"axis":{"values":[-4,-2,0,2,4],"tickCount":40,"format":".1f","labelFontSize":8.5,"title":"Abs. model error / %","titlePadding":3}}}},
     {"data":{"name":"d_err"},"transform":[{"filter":"datum.s == '1.0C'"}],"mark":{"type":"line","color":"#EBB03F","strokeWidth":1.2,"clip":true},
      "encoding":{"x":{"field":"f","type":"quantitative","scale":{"domain":[0,11000],"nice":false},"axis":{"values":[0,1000,2000,3000,4000,5000,6000,7000,8000,9000,10000,11000],"tickCount":40,"format":"d","title":"FEC"}},"y":{"field":"v","type":"quantitative"}}},
     {"data":{"name":"d_err"},"transform":[{"filter":"datum.s == '0.5C'"}],"mark":{"type":"line","color":"#D05F33","strokeWidth":1.2,"clip":true},"encoding":{"x":{"field":"f","type":"quantitative"},"y":{"field":"v","type":"quantitative"}}},
     {"data":{"name":"d_err"},"transform":[{"filter":"datum.s == '0.2C'"}],"mark":{"type":"line","color":"#1F6DA8","strokeWidth":1.2,"clip":true},"encoding":{"x":{"field":"f","type":"quantitative"},"y":{"field":"v","type":"quantitative"}}},
     {"data":{"name":"d_err"},"mark":{"type":"point","opacity":1,"strokeWidth":1,"size":16,"clip":true},
      "encoding":{"x":{"field":"f","type":"quantitative"},"y":{"field":"v","type":"quantitative"},
       "shape":{"field":"s","type":"nominal","scale":{"domain":["1.0C","0.5C","0.2C"],"range":["circle","M-1.6,0A1.6,1.6 0 1,0 1.6,0A1.6,1.6 0 1,0 -1.6,0","M-1.2,0L1.2,0M0,-1.2L0,1.2"]},"legend":null},
       "stroke":{"field":"s","type":"nominal","scale":{"domain":["1.0C","0.5C","0.2C"],"range":["#EBB03F","#D05F33","#1F6DA8"]},"legend":null},
       "fill":{"field":"s","type":"nominal","scale":{"domain":["1.0C","0.5C","0.2C"],"range":["#EBB03F","white","transparent"]},"legend":null}}}
    ]}
  ],"spacing":10,"bounds":"flush",
  "resolve":{"scale":{"shape":"independent","stroke":"independent","fill":"independent","color":"independent"},"legend":{"shape":"independent","stroke":"independent","fill":"independent"}}}
 ],"spacing":16,
 "resolve":{"scale":{"shape":"independent","stroke":"independent","fill":"independent","color":"independent"},"legend":{"shape":"independent","stroke":"independent","fill":"independent"}}}
]
}
